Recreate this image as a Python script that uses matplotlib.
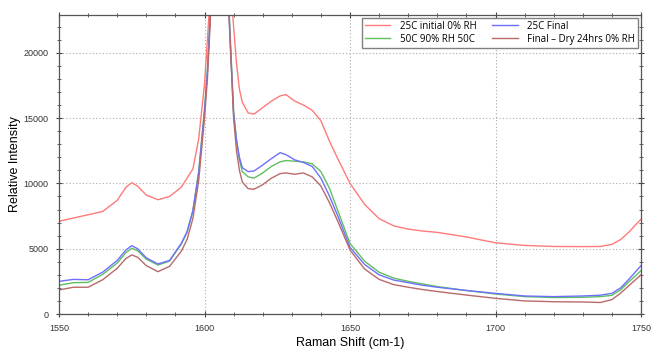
import matplotlib
matplotlib.use("Agg")
import matplotlib.pyplot as plt
from matplotlib.ticker import MultipleLocator

raman_shift = [1550, 1555, 1560, 1565, 1570, 1573, 1575, 1577, 1580, 1584, 1588, 1592, 1594, 1596, 1598,
               1600, 1601, 1602, 1603, 1605, 1607, 1608, 1609, 1610, 1611, 1612, 1613, 1615, 1617, 1620,
               1623, 1626, 1628, 1631, 1634, 1637, 1640, 1643, 1646, 1650, 1655, 1660, 1665, 1670, 1675,
               1680, 1690, 1700, 1710, 1720, 1730, 1736, 1740, 1743, 1746, 1748, 1750]

initial_25c = [7100, 7350, 7600, 7850, 8700, 9700, 10050, 9800, 9100, 8750, 9000, 9700, 10400, 11100, 13400,
               17600, 21000, 24500, 30000, 40000, 35000, 30000, 25000, 22000, 19200, 17200, 16200, 15400, 15300, 15800,
               16300, 16700, 16800, 16300, 16000, 15600, 14800, 13200, 11800, 10000, 8400, 7300, 6750, 6500, 6350,
               6250, 5900, 5450, 5250, 5170, 5160, 5170, 5330, 5700, 6300, 6800, 7250]

final_25c = [2500, 2650, 2620, 3200, 4100, 4900, 5230, 5000, 4300, 3830, 4100, 5400, 6300, 7900, 10800,
             15500, 18500, 23000, 30000, 40000, 32000, 25000, 20000, 15300, 13300, 12000, 11200, 10900, 10950, 11400,
             11900, 12350, 12200, 11800, 11600, 11300, 10400, 9000, 7400, 5100, 3800, 3000, 2600, 2400, 2200,
             2050, 1800, 1580, 1380, 1330, 1380, 1440, 1580, 2000, 2700, 3200, 3700]

rh90_50c = [2200, 2400, 2420, 3030, 3900, 4700, 5030, 4850, 4200, 3750, 4050, 5350, 6250, 7900, 10900,
            15700, 18700, 23000, 30000, 40000, 32000, 25500, 20500, 15600, 13300, 11800, 10900, 10500, 10400, 10800,
            11300, 11650, 11750, 11700, 11650, 11500, 10900, 9600, 7800, 5400, 4050, 3200, 2750, 2500, 2300,
            2100, 1800, 1530, 1330, 1260, 1280, 1330, 1430, 1850, 2500, 2900, 3320]

final_dry = [1840, 2050, 2050, 2620, 3500, 4250, 4520, 4350, 3700, 3240, 3650, 4800, 5700, 7300, 10200,
             15000, 18000, 22500, 30000, 40000, 32000, 25000, 20000, 15000, 12500, 11000, 10100, 9600, 9550, 9900,
             10400, 10750, 10800, 10700, 10800, 10500, 9800, 8500, 7000, 4900, 3450, 2650, 2250, 2050, 1870,
             1720, 1450, 1200, 1000, 940, 920, 880, 1100, 1600, 2200, 2600, 3000]

labels = ["25C initial 0% RH", "50C 90% RH 50C", "25C Final", "Final \u2013 Dry 24hrs 0% RH"]
colors = ["#ff7a7a", "#5fbf5f", "#6f6fff", "#b86a6a"]

fig = plt.figure(figsize=(6.53, 3.54), dpi=100)
ax = fig.add_axes([59 / 653, 40 / 354, (641 - 59) / 653, (314 - 14.5) / 354])

series = [initial_25c, rh90_50c, final_25c, final_dry]
handles = []
for ys, c, lab in zip(series, colors, labels):
    h, = ax.plot(raman_shift, ys, color=c, lw=1.0, label=lab)
    handles.append(h)

ax.set_xlim(1550, 1750)
ax.set_ylim(0, 22930)
ax.xaxis.set_major_locator(MultipleLocator(50))
ax.xaxis.set_minor_locator(MultipleLocator(10))
ax.yaxis.set_major_locator(MultipleLocator(5000))
ax.yaxis.set_minor_locator(MultipleLocator(1000))
ax.grid(True, which="major", linestyle=(0, (1, 2)), color="#aaaaaa", linewidth=0.8)

ax.tick_params(which="both", direction="inout", top=True, right=True, colors="#444444",
               labelsize=6.5, labelcolor="#333333")
ax.tick_params(which="major", length=5, width=0.8, pad=5)
ax.tick_params(which="minor", length=3, width=0.6)
for lab in ax.get_xticklabels() + ax.get_yticklabels():
    lab.set_family("Liberation Sans")
for s in ax.spines.values():
    s.set_color("#555555")
    s.set_linewidth(0.9)

ax.set_xlabel("Raman Shift (cm-1)", fontsize=9, family="Liberation Sans", va="center")
ax.set_ylabel("Relative Intensity", fontsize=9, family="Liberation Sans", va="center")
ax.xaxis.set_label_coords(0.5, (314 - 343) / 299.5)
ax.yaxis.set_label_coords((15 - 59) / 582, 0.5)

leg = ax.legend(handles=handles, ncol=2, loc="upper right",
                bbox_to_anchor=(643 / 653, 1 - 13 / 354), bbox_transform=fig.transFigure,
                fancybox=False, framealpha=1, edgecolor="#808080",
                prop={"family": "Open Sans", "size": 7}, handlelength=2.6,
                columnspacing=1.6, borderpad=0.3, labelspacing=0.2, handletextpad=1.0)
leg.get_frame().set_linewidth(1.0)

fig.savefig("out.png", dpi=100)
